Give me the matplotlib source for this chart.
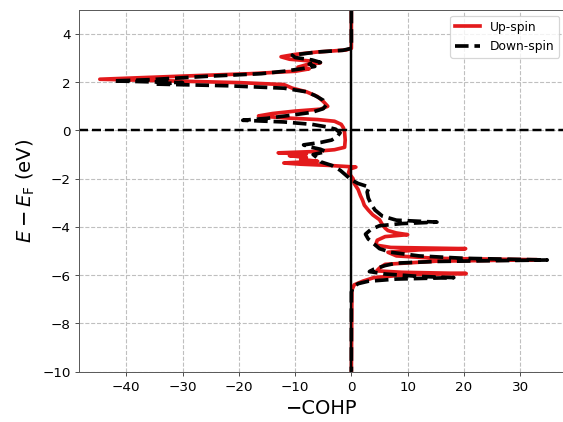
import numpy as np
import matplotlib
matplotlib.use("Agg")
import matplotlib.pyplot as plt

# energies (eV, relative to E_F) and -COHP values
e_up = [5.0, 3.40, 3.33, 3.25, 3.15, 3.05, 2.95, 2.88, 2.80, 2.72, 2.62, 2.55, 2.45,
        2.35, 2.25, 2.12, 2.05, 1.98, 1.90, 1.75, 1.60, 1.40, 1.20, 1.00, 0.88, 0.80,
        0.70, 0.60, 0.52, 0.45, 0.38, 0.25, 0.10, -0.10, -0.40, -0.70, -0.80, -0.88,
        -0.93, -0.98, -1.05, -1.12, -1.20, -1.28, -1.35, -1.40, -1.45, -1.52, -1.60,
        -1.75, -2.00, -2.20, -2.45, -2.70, -2.90, -3.10, -3.30, -3.50, -3.70, -3.90,
        -4.05, -4.15, -4.25, -4.32, -4.40, -4.55, -4.75, -4.85, -4.90, -4.95, -5.05,
        -5.20, -5.30, -5.36, -5.42, -5.55, -5.70, -5.82, -5.88, -5.93, -5.98, -6.10,
        -6.25, -6.40, -6.60, -10.0]
cohp_up = [0, 0, -1, -6, -10, -12.5, -11, -7.5, -5.5, -8, -9.5, -7.5, -10,
           -18, -30, -44.7, -32, -20, -12, -10.5, -8, -6, -5.0, -4.2, -5.5, -10,
           -14, -16.5, -12, -6, -3, -1.8, -1.4, -1.2, -1.1, -1.2, -3, -7,
           -13, -8, -11, -8, -9, -6, -12, -9, -4, 0.8, -0.3,
           -0.5, 0.3, 0.5, 1.2, 1.6, 2.0, 2.3, 3.0, 3.8, 5.0, 5.5,
           6.0, 6.5, 8, 10, 6, 4.6, 4.3, 7, 20.3, 12, 6.5,
           8, 15, 33, 15, 6, 5, 4.5, 9, 20.4, 10, 4,
           2, 0.5, 0.1, 0]

e_dn = [5.0, 3.40, 3.32, 3.25, 3.12, 3.02, 2.92, 2.82, 2.75, 2.65, 2.55, 2.45, 2.35,
        2.25, 2.10, 2.05, 1.98, 1.92, 1.85, 1.75, 1.60, 1.45, 1.25, 1.05, 0.90, 0.75,
        0.62, 0.50, 0.42, 0.35, 0.25, 0.15, 0.05, -0.10, -0.25, -0.40, -0.50, -0.60,
        -0.68, -0.78, -0.88, -1.00, -1.15, -1.30, -1.45, -1.65, -1.85, -2.05, -2.20,
        -2.35, -2.55, -2.80, -3.05, -3.30, -3.55, -3.72, -3.80, -3.86, -3.95, -4.10,
        -4.30, -4.50, -4.70, -4.90, -5.05, -5.20, -5.30, -5.37, -5.43, -5.50, -5.60,
        -5.75, -5.85, -5.95, -6.05, -6.10, -6.16, -6.25, -6.35, -6.50, -6.70, -10.0]
cohp_dn = [0, 0, -1.5, -6, -10.5, -10, -7, -5.5, -7.5, -6.5, -9, -12, -16,
           -25, -36, -42.3, -30, -35, -22, -12, -8, -6.5, -5, -4.5, -5, -7,
           -11, -15, -19.3, -12, -7, -4.5, -2.8, -2.0, -2.5, -3.5, -5.5, -8.5,
           -7.5, -5.5, -4.5, -6.8, -6.0, -5.5, -3.5, -2.0, -1.0, 0, 1.2,
           3.2, 2.8, 3.0, 3.5, 4.2, 5.5, 8, 15.2, 9, 5, 3.5,
           2.5, 3.0, 4.0, 5, 7, 12, 20, 34.8, 15, 8, 6,
           4, 3.2, 6, 12, 18.2, 8, 3, 1.2, 0.3, 0.0, 0]

fig = plt.figure(figsize=(6.4, 4.8), dpi=88)
ax = fig.add_axes([0.1403, 0.119, 0.8633, 0.857])

ax.plot(cohp_up, e_up, color="#e31a1c", lw=3, label="Up-spin")
ax.plot(cohp_dn, e_dn, color="black", lw=3, ls="--", label="Down-spin")
ax.axvline(0, color="black", lw=2)
ax.axhline(0, color="black", lw=2, ls="--")

ax.set_xlim(-48.4, 38)
ax.set_ylim(-10, 5)
ax.set_xticks([-40, -30, -20, -10, 0, 10, 20, 30])
ax.set_yticks([-10, -8, -6, -4, -2, 0, 2, 4])
ax.tick_params(labelsize=11, color="0.3")
for s in ax.spines.values():
    s.set_color("0.35")

ax.grid(True, ls="--", color="0.75", lw=0.9)
ax.set_axisbelow(True)
ax.set_xlabel("\u2212COHP", fontsize=16)
ax.set_ylabel(r"$E-E_\mathrm{F}$ (eV)", fontsize=16)
ax.legend(loc="upper right", fontsize=10)

fig.savefig("out.png", dpi=88)
